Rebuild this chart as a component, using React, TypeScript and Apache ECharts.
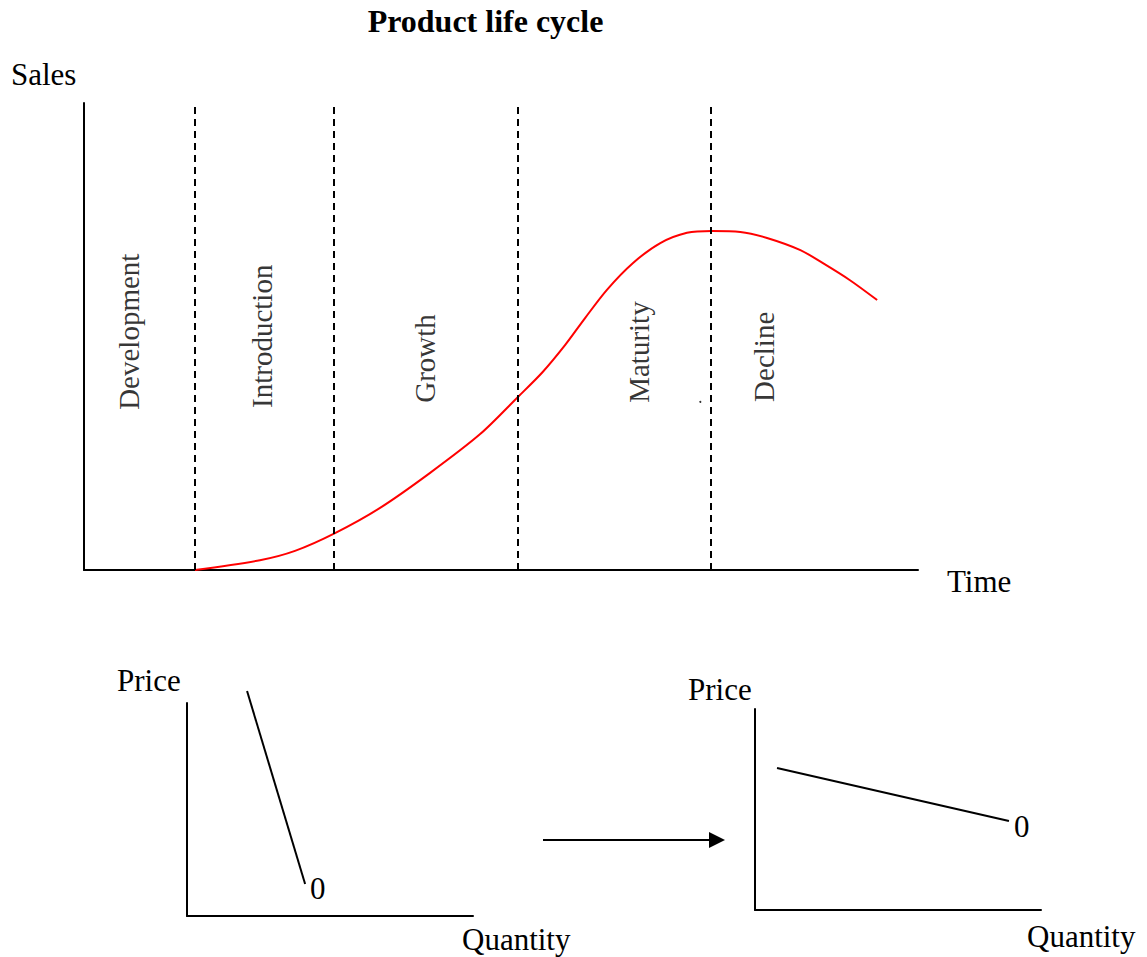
import React, { useEffect, useRef } from "react";
import * as echarts from "echarts";

// ---- Data ----
// Main chart: time on 0..100, sales on 0..100
const salesCurve: [number, number][] = [
  [13.3, 0],
  [21.1, 2.1],
  [25.3, 4.1],
  [30.1, 7.9],
  [35.5, 13.3],
  [41.5, 20.8],
  [47.5, 29.1],
  [52.0, 37.0],
  [55.0, 42.4],
  [57.7, 48.2],
  [60.1, 54.0],
  [62.7, 60.0],
  [65.8, 65.7],
  [69.1, 70.0],
  [72.3, 72.2],
  [75.3, 72.6],
  [78.7, 72.4],
  [81.9, 71.1],
  [85.9, 68.5],
  [88.6, 65.7],
  [91.8, 62.1],
  [95.1, 57.8],
];
const phaseBoundaries = [13.3, 30.0, 52.0, 75.2];
const phaseNames = ["Development", "Introduction", "Growth", "Maturity", "Decline"];
const phaseLabelX = [5.4, 21.3, 40.9, 66.6, 81.5];
const phaseLabelY = [34.3, 34.7, 35.8, 35.8, 36.0];
const strayDot: [number, number][] = [[73.9, 36.0]];

// Lower diagrams: quantity on 0..100, price on 0..100
const demandBefore: [number, number][] = [
  [21.0, 105.6],
  [41.3, 15.0],
];
const demandAfter: [number, number][] = [
  [7.7, 70.6],
  [88.8, 44.3],
];
const demandEndLabel = "0";

const FONT = "'Liberation Serif', 'Times New Roman', serif";

function valueAxis(gridIndex: number) {
  return {
    type: "value" as const,
    gridIndex,
    min: 0,
    max: 100,
    axisLine: { show: true, onZero: false, lineStyle: { color: "#000", width: 2 } },
    axisTick: { show: false },
    axisLabel: { show: false },
    splitLine: { show: false },
  };
}

function textEl(text: string, x: number, y: number, size: number, align = "left", bold = false) {
  return {
    type: "text",
    x,
    y,
    silent: true,
    style: {
      text,
      x: 0,
      y: 0,
      fill: "#000",
      font: `${bold ? "bold " : ""}${size}px ${FONT}`,
      textAlign: align,
      textVerticalAlign: "middle",
    },
  };
}

function endLabel(offsetY: number) {
  return {
    show: true,
    formatter: demandEndLabel,
    distance: 5,
    offset: [0, offsetY],
    color: "#000",
    fontFamily: FONT,
    fontSize: 31,
  };
}

export default function App() {
  const ref = useRef<HTMLDivElement>(null);

  useEffect(() => {
    if (!ref.current) return;
    const chart = echarts.init(ref.current, undefined, { renderer: "svg" });

    const option = {
      animation: false,
      backgroundColor: "#fff",
      grid: [
        { left: 84, top: 103, width: 834, height: 467 },
        { left: 187, top: 703, width: 286, height: 213 },
        { left: 755, top: 709, width: 286, height: 201 },
      ],
      xAxis: [valueAxis(0), valueAxis(1), valueAxis(2)],
      yAxis: [valueAxis(0), valueAxis(1), valueAxis(2)],
      series: [
        {
          type: "line",
          name: "Sales",
          xAxisIndex: 0,
          yAxisIndex: 0,
          data: salesCurve,
          smooth: 0.3,
          symbol: "none",
          lineStyle: { color: "#ff0000", width: 2 },
          markLine: {
            silent: true,
            symbol: ["none", "none"],
            label: { show: false },
            lineStyle: { color: "#000", width: 2, type: [7, 5] },
            data: phaseBoundaries.map((v) => ({ xAxis: v })),
          },
        },
        {
          type: "scatter",
          name: "Phases",
          xAxisIndex: 0,
          yAxisIndex: 0,
          symbolSize: 1,
          silent: true,
          itemStyle: { color: "transparent" },
          data: phaseNames.map((n, i) => [phaseLabelX[i], phaseLabelY[i], n]),
          label: {
            show: true,
            position: "inside",
            rotate: 90,
            align: "left",
            verticalAlign: "middle",
            color: "#000",
            textBorderWidth: 0,
            fontFamily: FONT,
            fontSize: 29,
            formatter: (p: any) => p.data[2],
          },
        },
        {
          type: "scatter",
          name: "dot",
          xAxisIndex: 0,
          yAxisIndex: 0,
          symbolSize: 2,
          silent: true,
          itemStyle: { color: "#000" },
          data: strayDot,
        },
        {
          type: "line",
          name: "Demand before",
          xAxisIndex: 1,
          yAxisIndex: 1,
          clip: false,
          data: demandBefore,
          symbol: "none",
          lineStyle: { color: "#000", width: 2 },
          endLabel: endLabel(4),
        },
        {
          type: "line",
          name: "Demand after",
          xAxisIndex: 2,
          yAxisIndex: 2,
          clip: false,
          data: demandAfter,
          symbol: "none",
          lineStyle: { color: "#000", width: 2 },
          endLabel: endLabel(6),
        },
      ],
      graphic: [
        textEl("Product life cycle", 485.5, 21, 32, "center", true),
        textEl("Sales", 11, 74, 31),
        textEl("Time", 947, 581, 31),
        textEl("Price", 117, 680, 31),
        textEl("Quantity", 462, 939, 31),
        textEl("Price", 688, 689, 31),
        textEl("Quantity", 1027, 936, 31),
        {
          type: "line",
          silent: true,
          shape: { x1: 543, y1: 840, x2: 711, y2: 840 },
          style: { stroke: "#000", lineWidth: 2 },
        },
        {
          type: "polygon",
          silent: true,
          shape: { points: [[709, 832], [725, 840], [709, 848]] },
          style: { fill: "#000" },
        },
      ],
    };

    chart.setOption(option as any);
    return () => chart.dispose();
  }, []);

  return (
    <div
      ref={ref}
      style={{ position: "absolute", left: 0, top: 0, width: 1147, height: 957, background: "#fff" }}
    />
  );
}
